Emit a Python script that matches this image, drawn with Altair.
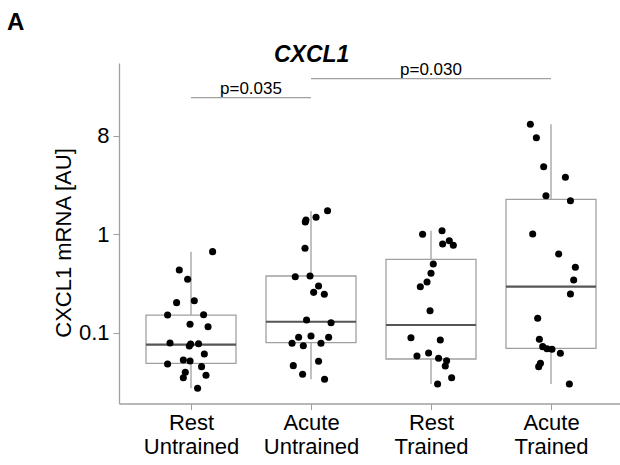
import altair as alt
import pandas as pd

# ---------------- data ----------------
groups = ["Rest Untrained", "Acute Untrained", "Rest Trained", "Acute Trained"]
x_label_top = ["Rest", "Acute", "Rest", "Acute"]
x_label_bottom = ["Untrained", "Untrained", "Trained", "Trained"]

rest_untrained = [0.667, 0.435, 0.350, 0.203, 0.212, 0.152, 0.153, 0.1225, 0.1158, 0.0792, 0.0738,
                  0.0779, 0.0774, 0.0613, 0.0485, 0.0532, 0.0520, 0.0456, 0.0400, 0.0352, 0.0373, 0.0275]
rest_untrained_jitter = [0.18, -0.0975, -0.028, -0.12, 0.0275, -0.195, 0.105, -0.008, 0.142, -0.175, -0.014,
                         0.063, -0.003, 0.111, -0.195, -0.064, -0.008, 0.088, -0.0475, -0.064, 0.125, 0.055]

acute_untrained = [1.733, 1.486, 1.396, 1.333, 0.722, 0.372, 0.378, 0.299, 0.258, 0.2466, 0.1355,
                   0.1272, 0.0904, 0.0933, 0.0904, 0.0787, 0.0744, 0.0787, 0.0467, 0.0517, 0.0382, 0.0340]
acute_untrained_jitter = [0.138, 0.042, -0.042, -0.0475, -0.05, -0.131, -0.008, 0.063, 0.022, 0.111, -0.037,
                          0.167, -0.103, 0.0, 0.147, -0.158, -0.064, 0.083, -0.1475, 0.063, -0.07, 0.113]

rest_trained = [1.0, 1.088, 0.798, 0.861, 0.774, 0.500, 0.403, 0.329, 0.2945, 0.168, 0.0896,
                0.0849, 0.0585, 0.0627, 0.0554, 0.0524, 0.0463, 0.0352, 0.0304]
rest_trained_jitter = [-0.07, 0.092, 0.097, 0.1525, 0.186, 0.019, 0.0, -0.033, -0.089, -0.008, -0.167,
                       0.0775, -0.117, -0.02, 0.063, 0.13, 0.119, 0.172, 0.055]

acute_trained = [13.02, 9.52, 4.84, 3.78, 2.46, 2.19, 1.007, 0.632, 0.463, 0.344, 0.248,
                 0.141, 0.0863, 0.0727, 0.0693, 0.0684, 0.0623, 0.0493, 0.0456, 0.0304]
acute_trained_jitter = [-0.172, -0.122, -0.061, 0.12, -0.042, 0.162, -0.1525, 0.064, 0.203, 0.189, 0.162,
                        -0.111, -0.097, -0.069, -0.033, 0.008, 0.078, -0.088, -0.1025, 0.153]

box_q1 = [0.0493, 0.0797, 0.0545, 0.070]
box_median = [0.0761, 0.130, 0.1205, 0.2945]
box_q3 = [0.152, 0.378, 0.558, 2.263]
whisker_low = [0.0275, 0.0340, 0.0304, 0.0304]
whisker_high = [0.667, 1.72, 1.085, 13.02]

bracket_start = [1, 2]
bracket_end = [2, 4]
bracket_height = [24.2, 37.7]
bracket_label = ["p=0.035", "p=0.030"]

y_tick_values = [0.1, 1, 10]
y_tick_labels = ["0.1", "1", "8"]

# ---------------- tables ----------------
series = [rest_untrained, acute_untrained, rest_trained, acute_trained]
jitters = [rest_untrained_jitter, acute_untrained_jitter, rest_trained_jitter, acute_trained_jitter]
rows = []
for i, (vals, jit) in enumerate(zip(series, jitters)):
    for v, j in zip(vals, jit):
        rows.append({"group": groups[i], "x": i + 1 + j, "value": v})
points = pd.DataFrame(rows)

boxes = pd.DataFrame({
    "group": groups,
    "xc": [i + 1 for i in range(len(groups))],
    "xl": [i + 1 - 0.375 for i in range(len(groups))],
    "xr": [i + 1 + 0.375 for i in range(len(groups))],
    "q1": box_q1, "median": box_median, "q3": box_q3,
    "lo": whisker_low, "hi": whisker_high,
})

brackets = pd.DataFrame({
    "x1": bracket_start, "x2": bracket_end, "y": bracket_height, "label": bracket_label,
})
brackets["xm"] = (brackets["x1"] + brackets["x2"]) / 2

FONT = "Liberation Sans"
GREY = "#a0a0a0"

label_arr = "[" + ",".join("'" + a + "|" + b + "'" for a, b in zip(x_label_top, x_label_bottom)) + "]"
x_label_expr = "split(" + label_arr + "[datum.value - 1], '|')"
y_label_expr = " : ".join(
    f"abs(datum.value - {v}) < {v}*0.01 ? '{l}'" for v, l in zip(y_tick_values, y_tick_labels)
) + " : ''"

x_scale = alt.Scale(domain=[0.4, 4.575], nice=False, zero=False)
y_scale = alt.Scale(type="log", domain=[0.0193, 54.4], nice=False)

x_axis = alt.Axis(values=[1, 2, 3, 4], labelExpr=x_label_expr, title=None, grid=False,
                  domainColor=GREY, tickColor=GREY, tickSize=6, labelFont=FONT, labelFontSize=22,
                  labelColor="black", labelLineHeight=24, labelPadding=3, domainWidth=1.3)
y_axis = alt.Axis(values=y_tick_values, labelExpr=y_label_expr, title="CXCL1 mRNA [AU]", grid=False,
                  domainColor=GREY, tickColor=GREY, tickSize=6, labelFont=FONT, labelFontSize=22,
                  labelColor="black", labelPadding=4, titleFont=FONT, titleFontSize=22,
                  titleFontWeight="normal", titleColor="black", titleX=-48.5, titleY=179.5,
                  titleAngle=270, titleAlign="center", titleBaseline="alphabetic", domainWidth=1.3)

whiskers = alt.Chart(boxes).mark_rule(color=GREY, strokeWidth=1.3).encode(
    x=alt.X("xc:Q", scale=x_scale, axis=x_axis),
    y=alt.Y("lo:Q", scale=y_scale, axis=y_axis),
    y2="hi:Q",
)
box_rect = alt.Chart(boxes).mark_rect(fill="white", stroke=GREY, strokeWidth=1.3).encode(
    x=alt.X("xl:Q", scale=x_scale), x2="xr:Q",
    y=alt.Y("q1:Q", scale=y_scale), y2="q3:Q",
)
medians = alt.Chart(boxes).mark_rule(color="#555555", strokeWidth=2.2).encode(
    x=alt.X("xl:Q", scale=x_scale), x2="xr:Q",
    y=alt.Y("median:Q", scale=y_scale),
)
dots = alt.Chart(points).mark_circle(color="black", opacity=1, size=50).encode(
    x=alt.X("x:Q", scale=x_scale),
    y=alt.Y("value:Q", scale=y_scale),
)
bracket_lines = alt.Chart(brackets).mark_rule(color=GREY, strokeWidth=1.3).encode(
    x=alt.X("x1:Q", scale=x_scale), x2="x2:Q",
    y=alt.Y("y:Q", scale=y_scale),
)
bracket_text = alt.Chart(brackets).mark_text(font=FONT, fontSize=17, color="black",
                                             baseline="alphabetic", dy=-3.5).encode(
    x=alt.X("xm:Q", scale=x_scale),
    y=alt.Y("y:Q", scale=y_scale),
    text="label:N",
)
title_text = alt.Chart(pd.DataFrame({"t": ["CXCL1"]})).mark_text(
    font=FONT, fontSize=23, fontWeight="bold", fontStyle="italic", color="black",
    align="center", baseline="alphabetic").encode(
    x=alt.value(192.7), y=alt.value(-1.5), text="t:N")
panel_text = alt.Chart(pd.DataFrame({"t": ["A"]})).mark_text(
    font=FONT, fontSize=24, fontWeight="bold", color="black",
    align="left", baseline="alphabetic").encode(
    x=alt.value(-112), y=alt.value(-33), text="t:N")

chart = alt.layer(whiskers, box_rect, medians, dots, bracket_lines, bracket_text,
                  title_text, panel_text).properties(
    width=501, height=340.5,
    autosize=alt.AutoSizeParams(type="none"),
    padding={"left": 119, "top": 63, "right": 0, "bottom": 61.5},
    background="white",
).configure_view(stroke=None)

chart.save("out.html", embed_options={"renderer": "svg", "actions": False})
